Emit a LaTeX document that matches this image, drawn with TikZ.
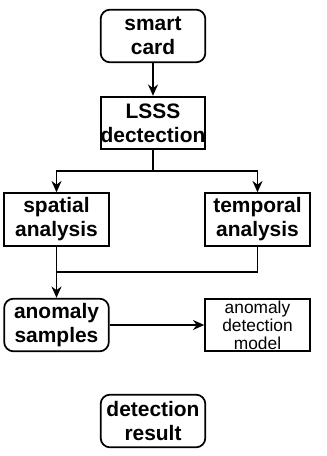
\documentclass[tikz,border=0pt]{standalone}
\usepackage{fontspec}
\setmainfont{Liberation Sans}
\usetikzlibrary{arrows.meta,positioning}
\tikzset{
  nbox/.style={draw=black,line width=1.3pt,minimum width=78.5pt,minimum height=39.5pt,align=center,font=\fontsize{15.7}{18}\selectfont\bfseries,inner sep=0pt},
  rbox/.style={nbox,rounded corners=7pt},
  mbox/.style={nbox,font=\fontsize{13}{13.5}\selectfont},
  arr/.style={-{Stealth[length=8.5pt,width=7.5pt]},line width=1.3pt},
  ln/.style={line width=1.3pt},
}

\begin{document}
\begin{tikzpicture}[x=0.75pt,y=-0.75pt]
  \useasboundingbox (0,0) rectangle (327,456);
  \node[rbox] (smart) at (153,36) {smart\\card};
  \node[nbox] (lsss) at (153,123) {LSSS\\dectection};
  \node[nbox] (spatial) at (56.5,219.5) {spatial\\analysis};
  \node[nbox] (temporal) at (257.5,219.5) {temporal\\analysis};
  \node[rbox] (samples) at (56.5,325) {anomaly\\samples};
  \node[mbox] (model) at (257.5,325) {anomaly\\detection\\model};
  \node[rbox] (result) at (153,421) {detection\\result};
  \coordinate (split) at (153,171);
  \coordinate (join) at (56.5,272);
  \draw[arr] (smart) -- (lsss);
  \draw[ln] (lsss) -- (split);
  \draw[arr] (split) -| (spatial);
  \draw[arr] (split) -| (temporal);
  \draw[ln] (temporal) |- (join);
  \draw[arr] (spatial) -- (samples);
  \draw[arr] (samples) -- (model);
\end{tikzpicture}
\end{document}
